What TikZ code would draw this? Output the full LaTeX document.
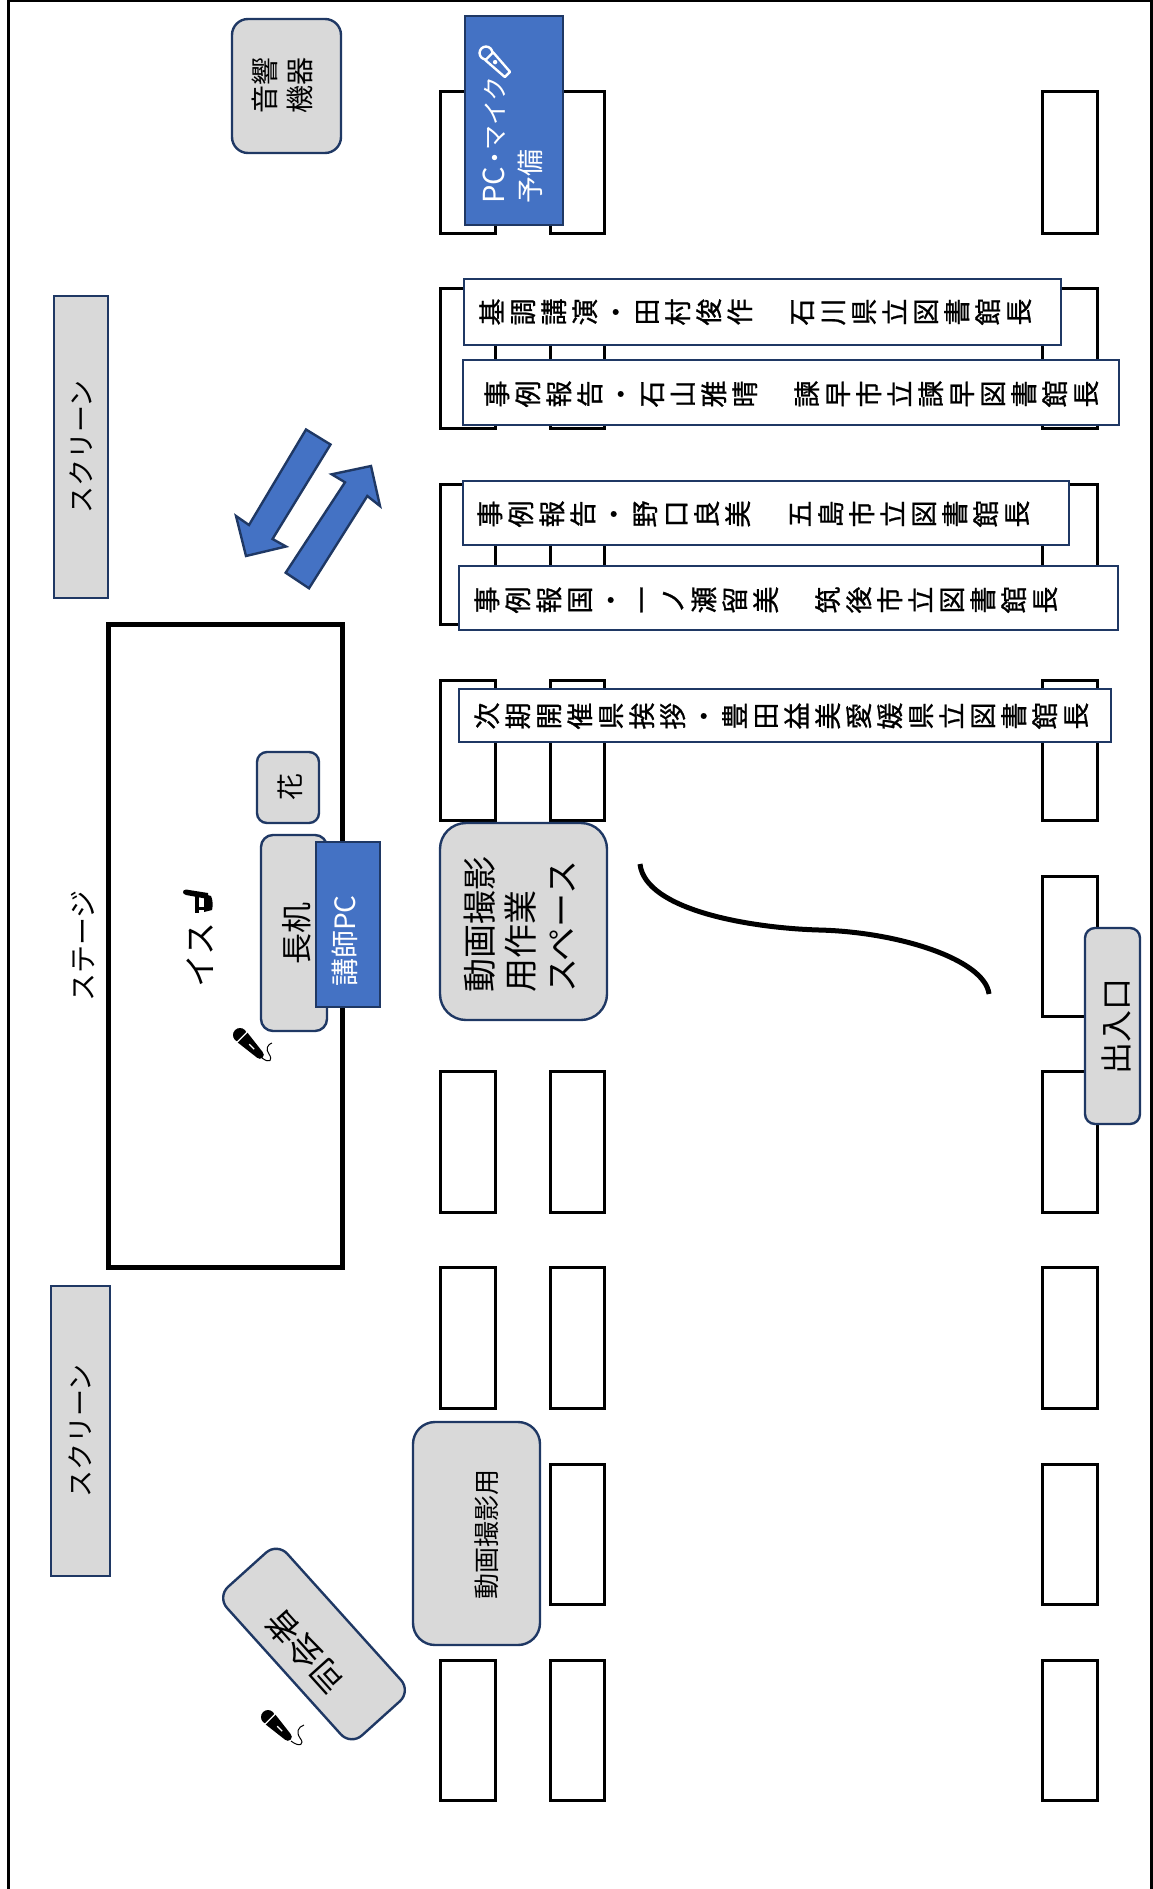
\documentclass[tikz,border=0pt]{standalone}
\usepackage{fontspec}
\setmainfont{Noto Sans CJK JP}
\newfontfamily\labfont[FakeBold=0.8]{Noto Sans CJK JP}
\definecolor{navy}{HTML}{1F3864}
\definecolor{blueF}{HTML}{4472C4}
\definecolor{greyF}{HTML}{D9D9D9}
\makeatletter
\newcommand\vchars[1]{\@tfor\vch:=#1\do{\hbox to 31pt{\hss\rotatebox[origin=c]{90}{\hbox to 1em{\hss\rule[-.12em]{0pt}{1em}\vch\hss}}\hss}}}
\makeatother
% style,name,x1,y1,x2,y2,text : node with text turned 90 degrees
\newcommand\bx[7]{%
  \pgfmathsetmacro\bxcx{(#3+#5)/2}\pgfmathsetmacro\bxcy{(#4+#6)/2}%
  \pgfmathsetmacro\bxw{#5-#3}\pgfmathsetmacro\bxh{#6-#4}%
  \node[#1,rotate=90,minimum width=\bxh pt,minimum height=\bxw pt] (#2) at (\bxcx,\bxcy) {#7};}
% style,name,x1,y1,x2,y2 : horizontal box holding no text of its own
\newcommand\hbx[6]{%
  \pgfmathsetmacro\bxcx{(#3+#5)/2}\pgfmathsetmacro\bxcy{(#4+#6)/2}%
  \pgfmathsetmacro\bxw{#5-#3}\pgfmathsetmacro\bxh{#6-#4}%
  \node[#1,minimum width=\bxw pt,minimum height=\bxh pt] (#2) at (\bxcx,\bxcy) {};}
\newcommand\micbody[3]{% x,y of head centre, colours fill and detail
  \begin{scope}[shift={(#1,#2)},rotate=-45]
    \fill[#3] (0,0) circle (7);
    \fill[#3] (3,-7) -- (28,-4) arc (-90:90:4) -- (3,7) -- cycle;
    \draw[white,line width=1.2] (3,-7.5) -- (3,7.5);
    \draw[white,line width=1.1] (13,0) -- (20,0);
  \end{scope}}
\tikzset{
  x=1pt,y=-1pt,
  seat/.style={draw=black,line width=3pt,fill=white,inner sep=0pt},
  gbox/.style={draw=navy,line width=2.4pt,fill=greyF,inner sep=0pt,align=left},
  bbox/.style={draw=navy,line width=2.4pt,fill=blueF,text=white,inner sep=0pt,align=left},
  lab/.style={draw=navy,line width=2.4pt,fill=white,inner sep=0pt},
  txt/.style={inner sep=0pt,align=left},
  labtxt/.style={inner sep=0pt,anchor=west,font=\labfont\fontsize{27}{35}\selectfont},
  frame/.style={draw=black,line width=3pt},
  arrowblue/.style={draw=navy,line width=2.4pt,fill=blueF,line join=miter},
  sz/.style={font=\fontsize{#1}{\the\numexpr#1*13/10\relax}\selectfont}
}
\begin{document}
\begin{tikzpicture}
\useasboundingbox (0,0) rectangle (1153,1889);
\draw[frame] (8.5,1889) -- (8.5,1) -- (1151.5,1) -- (1151.5,1889);
% seats
\foreach \ya/\yb [count=\i] in {92/233,288/428,484/624,680/820,1071/1212,1267/1408,1464/1604,1660/1800}{
  \hbx{seat}{sa\i}{440}{\ya}{495}{\yb}
  \hbx{seat}{sb\i}{550}{\ya}{604}{\yb}
}
\foreach \ya/\yb [count=\i] in {92/233,288/428,484/624,680/820,876/1016,1071/1212,1267/1408,1464/1604,1660/1800}{
  \hbx{seat}{sc\i}{1042}{\ya}{1097}{\yb}
}
% screens, stage
\bx{gbox,sz=27}{scrA}{54}{296}{108}{598}{スクリーン}
\bx{gbox,sz=27}{scrB}{51}{1286}{110}{1576}{スクリーン}
\hbx{draw=black,line width=5pt,fill=white}{stage}{108.5}{624.5}{342.5}{1267.5}
\node[txt,rotate=90,sz=28] (stagetxt) at (83,946) {ステージ};
\node[txt,rotate=90,sz=33] (chair) at (200,955) {イス};
% chair icon
\fill[black] (186,889.5) .. controls (182,890) and (182,894) .. (186,895) -- (208,899) -- (208,893) -- cycle;
\fill[black] (194.5,896) rectangle (199,913);
\fill[black] (199,907) rectangle (204,910);
\fill[black] (204,894) -- (211,896) .. controls (213,900) and (213,906) .. (212,910) -- (204,912) -- cycle;
% tables
\bx{gbox,rounded corners=16pt}{sound}{232}{19}{341}{153}{}
\node[txt,rotate=90,sz=28] (soundtxt) at (282,86) {音響\\[-1pt]機器};
\bx{bbox}{pcbox}{465}{16}{563}{225}{}
\node[txt,rotate=90,anchor=west,text=white,font=\fontsize{25}{36}\selectfont] (pctxt) at (513,204) {{\fontsize{29}{36}\selectfont PC}\hspace{-4pt}・\hspace{-5pt}マイク\\{\fontsize{27}{36}\selectfont 予備}};
\bx{gbox,rounded corners=12pt}{desk}{261}{835}{327}{1031}{}
\node[txt,rotate=90,sz=31] (desktxt) at (297,933) {長机};
\bx{bbox}{lecpc}{316}{842}{380}{1007}{}
\node[txt,rotate=90,sz=28,text=white] (lectxt) at (345,941) {講師PC};
\bx{gbox,rounded corners=10pt}{flower}{257}{752}{319}{823}{}
\node[txt,rotate=90,sz=27] (flowertxt) at (290,787) {花};
\bx{gbox,rounded corners=26pt}{work}{440}{823}{607}{1020}{}
\node[txt,rotate=90,anchor=west,font=\fontsize{34}{41}\selectfont] (worktxt) at (520,993) {動画撮影\\用作業\\スペース};
\bx{gbox,rounded corners=22pt}{rec}{413}{1422}{540}{1645}{}
\node[txt,rotate=90,sz=26] (rectxt) at (487,1534) {動画撮影用};
\node[draw=navy,line width=2.4pt,fill=greyF,rounded corners=15pt,rotate=132,minimum width=200pt,minimum height=81pt,inner sep=0pt] (mc) at (314,1644) {};
\node[txt,rotate=132,sz=33] (mctxt) at (305,1652) {司会者};
\bx{gbox,rounded corners=10pt}{door}{1085}{928}{1140}{1124}{}
\node[txt,rotate=90,sz=32] (doortxt) at (1116,1026) {出入口};
% name bars
\hbx{lab}{l1}{464}{279}{1061}{345}
\node[labtxt] (t1) at (476,312) {\vchars{基調講演・田村俊作　石川県立図書館長}};
\hbx{lab}{l2}{463}{360}{1119}{425}
\node[labtxt] (t2) at (481,394) {\vchars{事例報告・石山雅晴　諫早市立諫早図書館長}};
\hbx{lab}{l3}{463}{481}{1069}{545}
\node[labtxt] (t3) at (474,514) {\vchars{事例報告・野口良美　五島市立図書館長}};
\hbx{lab}{l4}{459}{566}{1118}{630}
\node[labtxt] (t4) at (471,600) {\vchars{事例報国・一ノ瀬留美　筑後市立図書館長}};
\hbx{lab}{l5}{459}{689}{1111}{742}
\node[labtxt] (t5) at (471,716) {\vchars{次期開催県挨拶・豊田益美愛媛県立図書館長}};
% arrows
\draw[arrowblue] (306,429.5) -- (330.5,444.5) -- (272.5,539) -- (286,546.5) -- (246,556) -- (236,516) -- (249,525) -- cycle;
\draw[arrowblue] (285.7,572.7) -- (309,588.3) -- (367.3,496) -- (380,506) -- (371,466) -- (331.7,474.3) -- (345,482.3) -- cycle;
% entrance curve
\coordinate (cs) at (640,864);
\coordinate (cm) at (819,930);
\coordinate (ce) at (989,994);
\draw[line width=5pt] (cs) .. controls (645,910) and (750,928) .. (cm) .. controls (900,932) and (985,960) .. (ce);
% microphones
\micbody{240}{1035}{black}
\draw[line width=1pt] (262,1058) .. controls (270,1064) and (273,1060) .. (269,1054) .. controls (265,1049) and (268,1044) .. (272,1043);
\micbody{268}{1717}{black}
\draw[line width=1pt] (291,1741) .. controls (300,1748) and (305,1744) .. (300,1738) .. controls (296,1732) and (298,1727) .. (304,1725);
\begin{scope}[shift={(486,53)},rotate=-45,scale=0.92]
  \draw[white,line width=2.4,line join=round] (0,0) circle (7);
  \draw[white,line width=2.4,line join=round,fill=blueF] (5,-6) -- (33,-4) -- (33,4) -- (5,6) -- cycle;
  \fill[white] (14,0) circle (2.4);
\end{scope}
\end{tikzpicture}
\end{document}
